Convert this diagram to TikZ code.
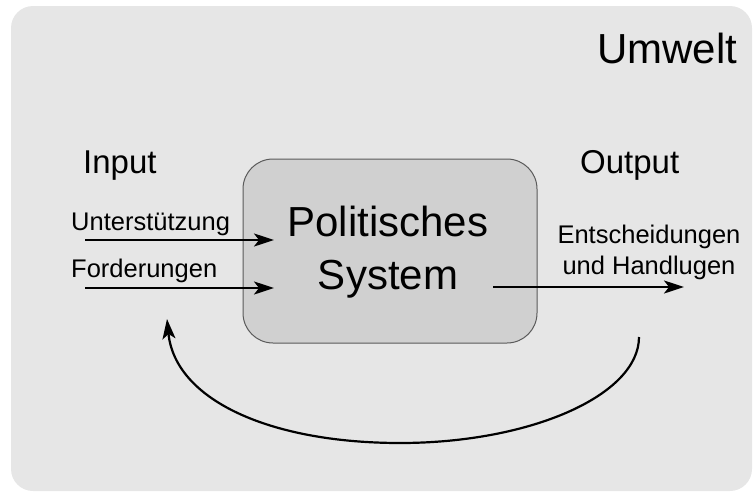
\documentclass[tikz,border=0pt]{standalone}
\usepackage{fontspec}
\setmainfont{Liberation Sans}
\usetikzlibrary{arrows.meta}
\definecolor{envbg}{HTML}{E6E6E6}
\definecolor{sysbg}{HTML}{D0D0D0}
\definecolor{sysline}{HTML}{5A5A5A}
\begin{document}
\begin{tikzpicture}[x=1pt,y=-1pt,
  arr/.style={line width=2.2pt,-{Stealth[length=20pt,width=13pt,inset=5pt]}},
  bigtxt/.style={font=\fontsize{42}{53}\selectfont},
  midtxt/.style={font=\fontsize{33}{40}\selectfont},
  smalltxt/.style={font=\fontsize{25.5}{31}\selectfont},
  ]
\useasboundingbox (0,0) rectangle (756,493);
\fill[envbg, rounded corners=22pt] (11,6) rectangle (752,491);
\node[bigtxt, anchor=base west, inner sep=0pt] (umwelt) at (597,63) {Umwelt};
\node[midtxt, anchor=base west, inner sep=0pt] (input) at (83,173) {Input};
\node[midtxt, anchor=base west, inner sep=0pt] (output) at (580,173) {Output};
\node[draw=sysline, line width=1pt, fill=sysbg, rounded corners=30pt,
      minimum width=294pt, minimum height=184pt] (sys) at (390,251) {};
\node[bigtxt, align=center, anchor=base, inner sep=0pt] (systxt) at (388,289) {Politisches\\System};
\node[smalltxt, anchor=base west, inner sep=0pt] (unt) at (71,230) {Unterstützung};
\node[smalltxt, anchor=base west, inner sep=0pt] (ford) at (71,277) {Forderungen};
\node[smalltxt, align=center, anchor=base, inner sep=0pt] (ent) at (649,274) {Entscheidungen\\und Handlugen};
\coordinate (a1s) at (85,240);
\coordinate (a1e) at (274,240);
\coordinate (a2s) at (85,288);
\coordinate (a2e) at (274,288);
\coordinate (os) at (493,287);
\coordinate (oe) at (684,287);
\coordinate (fs) at (639,337);
\coordinate (fb) at (400,443);
\coordinate (fe) at (167,319);
\draw[arr] (a1s) -- (a1e);
\draw[arr] (a2s) -- (a2e);
\draw[arr] (os) -- (oe);
\draw[arr] (fs) .. controls (639,395) and (531,443) .. (fb)
  .. controls (270,443) and (175,400) .. (fe);
\end{tikzpicture}
\end{document}
